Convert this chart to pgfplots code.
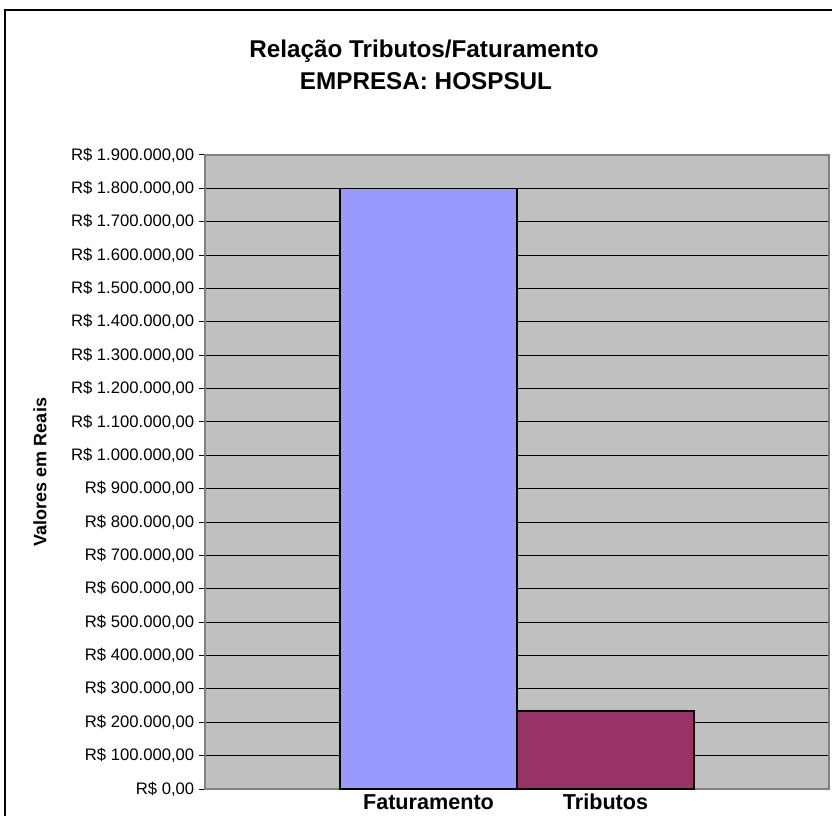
\documentclass[border=0pt]{standalone}
\usepackage{pgfplots}
\pgfplotsset{compat=1.18}
\usepackage{fontspec}
\setmainfont{Liberation Sans}
\definecolor{plotgray}{HTML}{C0C0C0}
\definecolor{framegray}{HTML}{808080}
\definecolor{fat}{HTML}{9999FF}
\definecolor{trib}{HTML}{993366}
\begin{document}
\begin{tikzpicture}
\begin{axis}[
  at={(153.75pt,-591.75pt)}, anchor=south west,
  scale only axis, width=468pt, height=475.5pt,
  xmin=-1.2627, xmax=2.2627,
  ymin=0, ymax=1900000,
  axis background/.style={fill=plotgray},
  axis line style={framegray, line width=1.1pt},
  ymajorgrids, major grid style={black, line width=0.75pt},
  xtick={0,1}, xticklabels={Faturamento,Tributos},
  xtick style={draw=none},
  xticklabel style={font=\bfseries\fontsize{16.2}{18}\selectfont, anchor=base, inner sep=0pt, yshift=-11pt},
  ytick={0,100000,200000,300000,400000,500000,600000,700000,800000,900000,1000000,1100000,1200000,1300000,1400000,1500000,1600000,1700000,1800000,1900000},
  yticklabels={{R\$ 0,00},{R\$ 100.000,00},{R\$ 200.000,00},{R\$ 300.000,00},{R\$ 400.000,00},{R\$ 500.000,00},{R\$ 600.000,00},{R\$ 700.000,00},{R\$ 800.000,00},{R\$ 900.000,00},{R\$ 1.000.000,00},{R\$ 1.100.000,00},{R\$ 1.200.000,00},{R\$ 1.300.000,00},{R\$ 1.400.000,00},{R\$ 1.500.000,00},{R\$ 1.600.000,00},{R\$ 1.700.000,00},{R\$ 1.800.000,00},{R\$ 1.900.000,00}},
  scaled y ticks=false,
  yticklabel style={font=\fontsize{12.5}{14}\selectfont},
  ytick pos=left, tick align=outside, major tick length=4.5pt,
  ytick style={black, line width=0.75pt},
  every axis y label/.style={at={(axis description cs:-0.2644,0.5)}, rotate=90, anchor=center, font=\bfseries\fontsize{13.5}{16}\selectfont},
  ylabel={Valores em Reais},
]
\addplot[ybar, bar width=1, fill=fat, draw=black, line width=1.1pt] coordinates {(0,1800000)};
\addplot[ybar, bar width=1, fill=trib, draw=black, line width=1.1pt] coordinates {(1,234000)};
\end{axis}
\begin{scope}[x=0.75pt,y=-0.75pt]
\begin{scope}
\clip (0,0) rectangle (832,816);
\draw[line width=1.5pt] (5,10) rectangle (900,900);
\end{scope}
\node[anchor=base, font=\bfseries\fontsize{18.2}{21}\selectfont] at (424,58) {Relação Tributos/Faturamento};
\node[anchor=base, font=\bfseries\fontsize{18.2}{21}\selectfont] at (426,90) {EMPRESA: HOSPSUL};
\pgfresetboundingbox
\path[use as bounding box] (0,0) rectangle (832,816);
\end{scope}
\end{tikzpicture}
\end{document}
